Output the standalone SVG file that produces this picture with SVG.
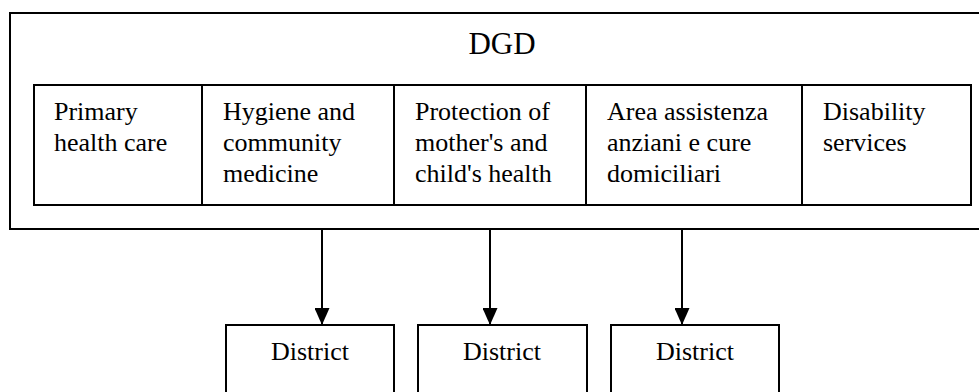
<svg xmlns="http://www.w3.org/2000/svg" width="979" height="392" viewBox="0 0 979 392">
<style>
.box{fill:#fff;stroke:#000;stroke-width:2}
.c{stroke:#000;stroke-width:2;fill:none}
</style>
<defs>
<marker id="ah" markerWidth="17" markerHeight="15" refX="17" refY="7.5" orient="auto" markerUnits="userSpaceOnUse" viewBox="0 0 17 15">
<path d="M0,0 L17,7.5 L0,15 Z" fill="#000"/>
</marker>
</defs>
<rect width="979" height="392" fill="#fff"/>
<g id="dgd">
<rect class="box" x="10" y="13" width="985" height="216"/>
<text x="502" y="54" text-anchor="middle" font-size="31" font-family="'Liberation Serif'">DGD</text>
</g>
<g id="primary">
<rect class="box" x="34" y="85" width="168" height="120"/>
<text x="54" y="120" font-size="26" font-family="'Liberation Serif'">Primary</text>
<text x="54" y="151" font-size="26" font-family="'Liberation Serif'">health care</text>
</g>
<g id="hygiene">
<rect class="box" x="202" y="85" width="192" height="120"/>
<text x="223" y="120" font-size="26" font-family="'Liberation Serif'">Hygiene and</text>
<text x="223" y="151" font-size="26" font-family="'Liberation Serif'">community</text>
<text x="223" y="182" font-size="26" font-family="'Liberation Serif'">medicine</text>
</g>
<g id="protection">
<rect class="box" x="394" y="85" width="192" height="120"/>
<text x="415" y="120" font-size="26" font-family="'Liberation Serif'">Protection of</text>
<text x="415" y="151" font-size="26" font-family="'Liberation Serif'">mother's and</text>
<text x="415" y="182" font-size="26" font-family="'Liberation Serif'">child's health</text>
</g>
<g id="area">
<rect class="box" x="586" y="85" width="216" height="120"/>
<text x="607" y="120" font-size="26" font-family="'Liberation Serif'">Area assistenza</text>
<text x="607" y="151" font-size="26" font-family="'Liberation Serif'">anziani e cure</text>
<text x="607" y="182" font-size="26" font-family="'Liberation Serif'">domiciliari</text>
</g>
<g id="disability">
<rect class="box" x="802" y="85" width="169" height="120"/>
<text x="823" y="120" font-size="26" font-family="'Liberation Serif'">Disability</text>
<text x="823" y="151" font-size="26" font-family="'Liberation Serif'">services</text>
</g>
<g id="district1">
<rect class="box" x="226" y="325" width="168" height="80"/>
<text x="310" y="360" text-anchor="middle" font-size="26" font-family="'Liberation Serif'">District</text>
</g>
<g id="district2">
<rect class="box" x="418" y="325" width="169" height="80"/>
<text x="502" y="360" text-anchor="middle" font-size="26" font-family="'Liberation Serif'">District</text>
</g>
<g id="district3">
<rect class="box" x="611" y="325" width="168" height="80"/>
<text x="695" y="360" text-anchor="middle" font-size="26" font-family="'Liberation Serif'">District</text>
</g>
<g id="connectors">
<line class="c" x1="322" y1="229" x2="322" y2="325" marker-end="url(#ah)"/>
<line class="c" x1="490" y1="229" x2="490" y2="325" marker-end="url(#ah)"/>
<line class="c" x1="682" y1="229" x2="682" y2="325" marker-end="url(#ah)"/>
</g>
</svg>
